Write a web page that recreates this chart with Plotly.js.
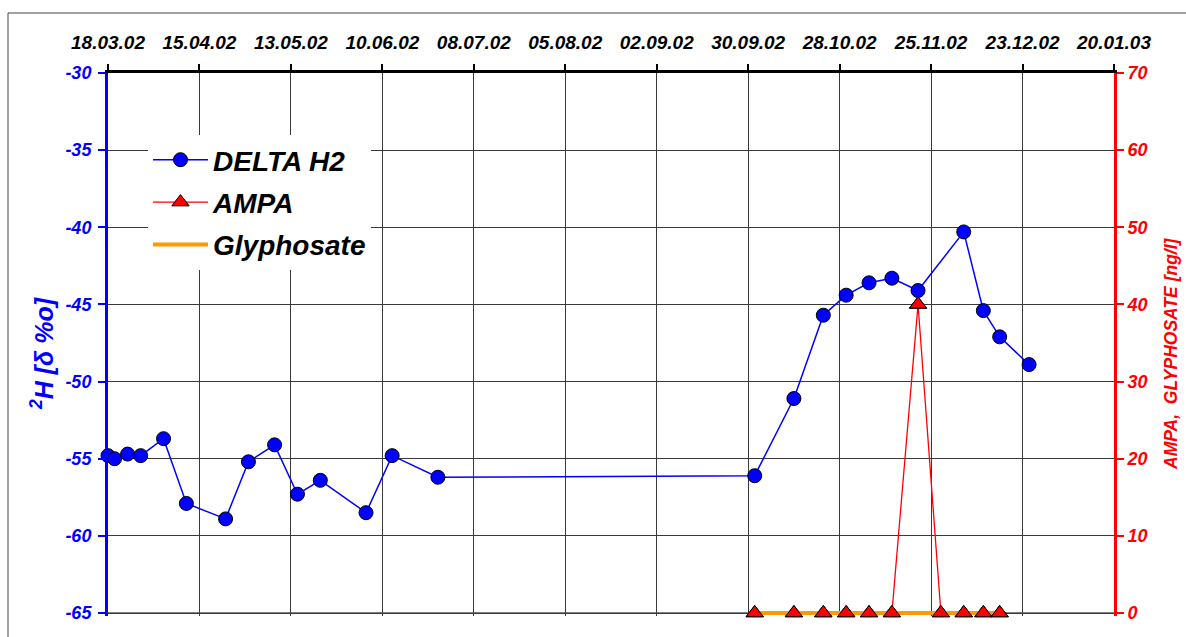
<!DOCTYPE html>
<html>
<head>
<meta charset="utf-8">
<script src="https://cdn.plot.ly/plotly-3.0.1.min.js"></script>
<style>
  html, body { margin: 0; padding: 0; background: #ffffff; }
  #chart { width: 1186px; height: 637px; }
</style>
</head>
<body>
<div id="chart"></div>
<script>
// ---- data ----
const h2Dates = ['2002-03-18','2002-03-20','2002-03-24','2002-03-28','2002-04-04','2002-04-11',
  '2002-04-23','2002-04-30','2002-05-08','2002-05-15','2002-05-22','2002-06-05','2002-06-13',
  '2002-06-27','2002-10-02','2002-10-14','2002-10-23','2002-10-30','2002-11-06','2002-11-13',
  '2002-11-21','2002-12-05','2002-12-11','2002-12-16','2002-12-25'];
const h2Values = [-54.8,-55.0,-54.7,-54.8,-53.7,-57.9,-58.9,-55.2,-54.1,-57.3,-56.4,-58.5,-54.8,
  -56.2,-56.1,-51.1,-45.7,-44.4,-43.6,-43.3,-44.1,-40.3,-45.4,-47.1,-48.9];

const ampaDates = ['2002-10-02','2002-10-14','2002-10-23','2002-10-30','2002-11-06','2002-11-13',
  '2002-11-21','2002-11-28','2002-12-05','2002-12-11','2002-12-16'];
const ampaValues = [0,0,0,0,0,0,40,0,0,0,0];

const glyDates = ampaDates;
const glyValues = [0,0,0,0,0,0,0,0,0,0,0];

const seriesNames = ['DELTA H2','AMPA','Glyphosate'];
const xRange = ['2002-03-18','2003-01-20'];
const leftMin = -65, leftMax = -30;
const leftTicks = [-65,-60,-55,-50,-45,-40,-35,-30];
const leftTickText = ['-65','-60','-55','-50','-45','-40','-35','-30'];
const rightMin = 0, rightMax = 70;
const leftTitle = '<sup>2</sup>H [δ %o]';
const rightTitle = 'AMPA,  GLYPHOSATE [ng/l]';

const FONT = 'Arial, "Liberation Sans", sans-serif';
const DAY = 86400000;

// plot area: the axes span 540 px; 3 extra px below the bottom so the thick
// glyphosate line at 0 is not cut in half by the plot clip
const AXIS_PX = 540, EXTRA_PX = 3;
const leftPad = (leftMax - leftMin) * EXTRA_PX / AXIS_PX;
const rightPad = (rightMax - rightMin) * EXTRA_PX / AXIS_PX;

const ampaMarker = {symbol: 'triangle-up', size: 15, color: '#ff0000', line: {color: '#000000', width: 1}};

const traces = [
  {
    x: h2Dates, y: h2Values, name: seriesNames[0], type: 'scatter', mode: 'lines+markers',
    yaxis: 'y', legendgroup: 'a', legendrank: 1, cliponaxis: false,
    line: {color: '#0000ff', width: 1.5},
    marker: {symbol: 'circle', size: 14, color: '#0000ff', line: {color: '#000000', width: 1}}
  },
  {
    x: ampaDates, y: ampaValues, name: seriesNames[1], type: 'scatter', mode: 'lines+markers',
    yaxis: 'y2', legendgroup: 'b', legendrank: 2, cliponaxis: false,
    line: {color: '#ff0000', width: 1.3},
    marker: ampaMarker
  },
  {
    x: glyDates, y: glyValues, name: seriesNames[2], type: 'scatter', mode: 'lines',
    yaxis: 'y2', legendgroup: 'c', legendrank: 3, cliponaxis: false,
    line: {color: '#ff9900', width: 4}
  },
  {
    // AMPA markers redrawn above the glyphosate line (as in the reference)
    x: ampaDates, y: ampaValues, name: seriesNames[1], type: 'scatter', mode: 'markers',
    yaxis: 'y2', legendgroup: 'b', showlegend: false, cliponaxis: false,
    marker: ampaMarker
  }
];

const TOP = 73, BOTTOM = TOP + AXIS_PX;   // pixel rows of -30 and -65
const PLOT_H = AXIS_PX + EXTRA_PX;
const px2x = p => (p - 108) / 1006;
const py2y = p => (TOP + PLOT_H - p) / PLOT_H;

const layout = {
  width: 1186, height: 637,
  margin: {l: 108, r: 72, t: TOP, b: 637 - TOP - PLOT_H, pad: 0},
  paper_bgcolor: '#ffffff', plot_bgcolor: '#ffffff',
  font: {family: FONT, color: '#000000'},
  showlegend: true,
  legend: {
    x: px2x(148), y: py2y(135), xanchor: 'left', yanchor: 'top',
    bgcolor: '#ffffff', borderwidth: 0,
    font: {family: FONT, size: 28, weight: 'bold', style: 'italic', color: '#000000'},
    traceorder: 'grouped', tracegroupgap: 3, itemwidth: 55
  },
  xaxis: {
    type: 'date', side: 'top', range: xRange,
    tick0: xRange[0], dtick: 28 * DAY, tickformat: '%d.%m.%y',
    showline: true, linecolor: '#000000', linewidth: 3,
    ticks: 'outside', ticklen: 6, tickwidth: 2, tickcolor: '#000000',
    ticklabelstandoff: 7,
    showgrid: true, gridcolor: '#3a3a3a', gridwidth: 1,
    zeroline: false,
    tickfont: {family: FONT, size: 19, weight: 'bold', style: 'italic', color: '#000000'}
  },
  yaxis: {
    range: [leftMin - leftPad, leftMax], tickmode: 'array', tickvals: leftTicks, ticktext: leftTickText,
    showline: true, linecolor: '#0000ff', linewidth: 3,
    ticks: 'outside', ticklen: 7, tickwidth: 2, tickcolor: '#0000ff',
    ticklabelstandoff: 3,
    showgrid: true, gridcolor: '#3a3a3a', gridwidth: 1, zeroline: false,
    tickfont: {family: FONT, size: 18, weight: 'bold', style: 'italic', color: '#0000ff'}
  },
  yaxis2: {
    range: [rightMin - rightPad, rightMax], dtick: 10, tick0: 0, overlaying: 'y', side: 'right',
    showline: true, linecolor: '#ff0000', linewidth: 3,
    ticks: 'outside', ticklen: 7, tickwidth: 2, tickcolor: '#ff0000',
    showgrid: false, zeroline: false,
    tickfont: {family: FONT, size: 18, weight: 'bold', style: 'italic', color: '#ff0000'}
  },
  annotations: [
    {text: leftTitle, xref: 'paper', yref: 'paper', x: px2x(42), y: py2y(353),
     xanchor: 'center', yanchor: 'middle', textangle: -90, showarrow: false,
     font: {family: FONT, size: 25, weight: 'bold', style: 'italic', color: '#0000ff'}},
    {text: rightTitle, xref: 'paper', yref: 'paper', x: px2x(1171), y: py2y(354),
     xanchor: 'center', yanchor: 'middle', textangle: -90, showarrow: false,
     font: {family: FONT, size: 17.5, weight: 'bold', style: 'italic', color: '#ff0000'}}
  ],
  shapes: [
    // white strip hiding the gridline overhang below the -65 line
    {type: 'rect', xref: 'paper', yref: 'paper', x0: 0, x1: 1, y0: 0, y1: py2y(BOTTOM),
     fillcolor: '#ffffff', line: {width: 0}, layer: 'between'},
    // bottom frame line at -65 / 0
    {type: 'line', xref: 'paper', yref: 'paper', x0: 0, x1: 1, y0: py2y(BOTTOM), y1: py2y(BOTTOM),
     line: {color: '#000000', width: 1}, layer: 'between'},
    // outer chart border (left and top edges visible)
    {type: 'line', xref: 'paper', yref: 'paper', x0: px2x(8), x1: px2x(8), y0: py2y(640), y1: py2y(13),
     line: {color: '#444444', width: 1}},
    {type: 'line', xref: 'paper', yref: 'paper', x0: px2x(8), x1: px2x(1190), y0: py2y(13), y1: py2y(13),
     line: {color: '#444444', width: 1}}
  ]
};

Plotly.newPlot('chart', traces, layout, {displayModeBar: false, staticPlot: true});
</script>
</body>
</html>
